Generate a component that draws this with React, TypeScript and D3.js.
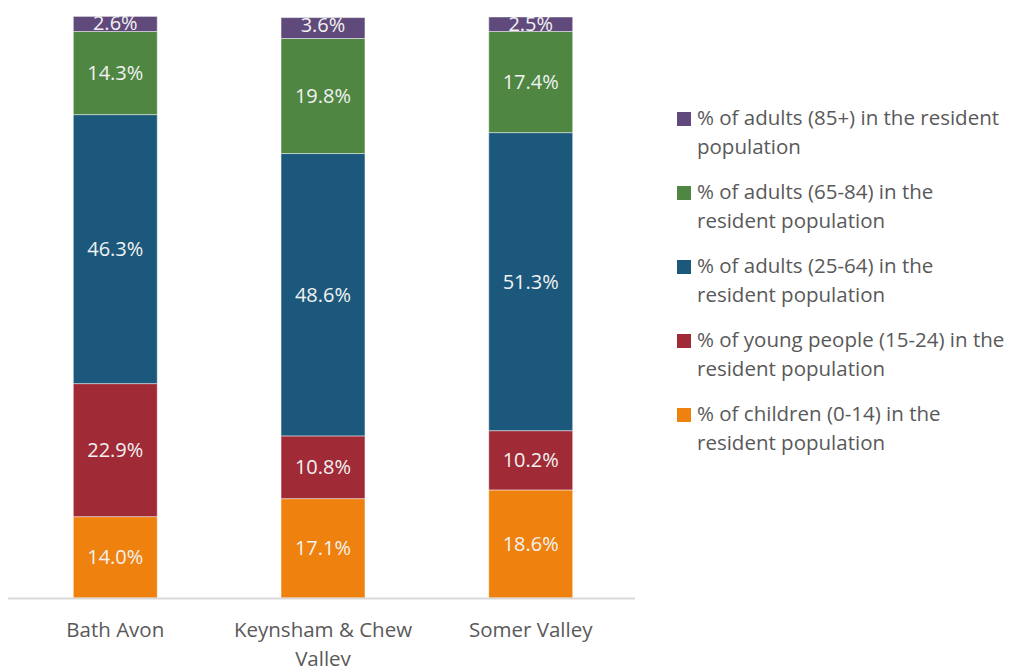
import React from 'react';
import * as d3 from 'd3';

const areas = ['Bath Avon', 'Keynsham & Chew Valley', 'Somer Valley'];
const children = [14.0, 17.1, 18.6];
const youngPeople = [22.9, 10.8, 10.2];
const adults25 = [46.3, 48.6, 51.3];
const adults65 = [14.3, 19.8, 17.4];
const adults85 = [2.6, 3.6, 2.5];

const seriesNames = [
  '% of children (0-14) in the resident population',
  '% of young people (15-24) in the resident population',
  '% of adults (25-64) in the resident population',
  '% of adults (65-84) in the resident population',
  '% of adults (85+) in the resident population',
];
const seriesValues = [children, youngPeople, adults25, adults65, adults85];
const colors = ['#EF810E', '#A12A37', '#1C587B', '#4E8642', '#604A7B'];

// legend is listed top-down from the last series
const legendLines = [
  ['% of adults (85+) in the resident', 'population'],
  ['% of adults (65-84) in the', 'resident population'],
  ['% of adults (25-64) in the', 'resident population'],
  ['% of young people (15-24) in the', 'resident population'],
  ['% of children (0-14) in the', 'resident population'],
];

const W = 1017;
const H = 666;
const font = '"Open Sans", Calibri, sans-serif';

const App: React.FC = () => {
  const x = d3.scaleBand<string>()
    .domain(areas)
    .range([11, 635])
    .paddingInner(0.596)
    .paddingOuter(0.3);

  const y = d3.scaleLinear().domain([0, 100]).range([598, 17]);

  const rows = areas.map((a, i) => {
    const row: Record<string, number | string> = { area: a };
    seriesNames.forEach((s, k) => { row[s] = seriesValues[k][i]; });
    return row;
  });
  const stacked = d3.stack<Record<string, number | string>>()
    .keys(seriesNames)
    .value((d, key) => d[key] as number)(rows);

  return (
    <svg width={W} height={H} style={{ position: 'absolute', left: 0, top: 0, background: '#fff' }}>
      {stacked.map((layer, k) => (
        <g key={layer.key}>
          {layer.map((seg, i) => {
            const y0 = y(seg[0]);
            const y1 = y(seg[1]);
            const bx = x(areas[i]) as number;
            const bw = x.bandwidth();
            const val = seriesValues[k][i];
            const small = y0 - y1 < 24;
            return (
              <g key={i}>
                <rect x={bx} y={y1} width={bw} height={y0 - y1}
                  fill={colors[k]} stroke="#ffffff" strokeOpacity={0.45} strokeWidth={1} />
                <text x={bx + bw / 2} y={small ? y1 + 14 : (y0 + y1) / 2 + 7}
                  textAnchor="middle" fill="#F2F2F2" fontFamily={font} fontSize={20}>
                  {val.toFixed(1)}%
                </text>
              </g>
            );
          })}
        </g>
      ))}

      <line x1={8} x2={635} y1={y(0) + 0.5} y2={y(0) + 0.5} stroke="#D9D9D9" strokeWidth={2} />

      {areas.map((a) => {
        const cx = (x(a) as number) + x.bandwidth() / 2;
        const lines = a === 'Keynsham & Chew Valley' ? ['Keynsham & Chew', 'Valley'] : [a];
        return (
          <text key={a} textAnchor="middle" fill="#595959" fontFamily={font} fontSize={20.5}>
            {lines.map((l, j) => (
              <tspan key={j} x={cx} y={637 + j * 29}>{l}</tspan>
            ))}
          </text>
        );
      })}

      {legendLines.map((lines, j) => {
        const k = seriesNames.length - 1 - j;
        const ty = 125 + j * 74;
        return (
          <g key={j}>
            <rect x={677} y={ty - 13} width={14} height={14} fill={colors[k]} />
            <text fill="#595959" fontFamily={font} fontSize={20.5}>
              {lines.map((l, m) => (
                <tspan key={m} x={697} y={ty + m * 29}>{l}</tspan>
              ))}
            </text>
          </g>
        );
      })}
    </svg>
  );
};

export default App;
